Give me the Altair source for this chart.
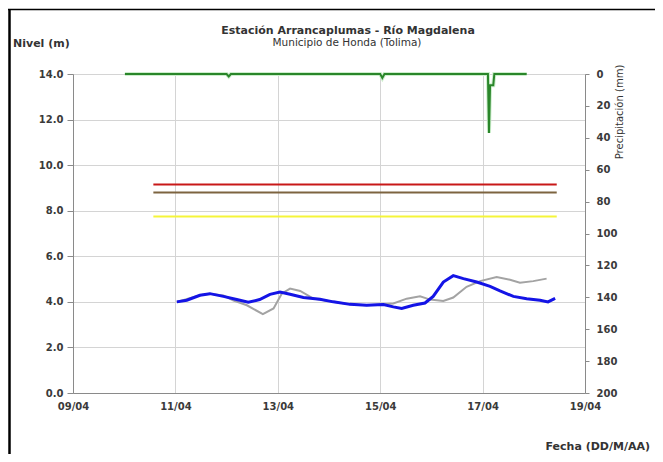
import altair as alt
import pandas as pd

FONT = "DejaVu Sans"

# ---------------- data ----------------
# Observed level (blue)
blue_time = ["2011-04-11T00:40", "2011-04-11T05:20", "2011-04-11T11:30", "2011-04-11T16:10",
             "2011-04-11T22:30", "2011-04-12T04:45", "2011-04-12T10:10", "2011-04-12T15:30",
             "2011-04-12T20:20", "2011-04-13T01:00", "2011-04-13T05:45", "2011-04-13T12:00",
             "2011-04-13T19:45", "2011-04-14T02:00", "2011-04-14T09:50", "2011-04-14T17:40",
             "2011-04-15T01:30", "2011-04-15T06:10", "2011-04-15T10:05", "2011-04-15T15:30",
             "2011-04-15T21:00", "2011-04-16T00:50", "2011-04-16T05:35", "2011-04-16T10:15",
             "2011-04-16T15:00", "2011-04-16T21:15", "2011-04-17T03:30", "2011-04-17T08:10",
             "2011-04-17T14:25", "2011-04-17T20:40", "2011-04-18T02:55", "2011-04-18T06:40",
             "2011-04-18T10:00"]
blue_level = [4.00, 4.07, 4.29, 4.36,
              4.24, 4.10, 3.98, 4.10,
              4.33, 4.43, 4.33, 4.19,
              4.11, 4.00, 3.89, 3.85,
              3.88, 3.78, 3.71, 3.85,
              3.95, 4.24, 4.87, 5.15,
              5.02, 4.87, 4.68, 4.48,
              4.24, 4.14, 4.07, 4.00,
              4.15]

# Second level series (grey)
gray_time = ["2011-04-11T00:40", "2011-04-11T11:30", "2011-04-11T16:00", "2011-04-11T22:30",
             "2011-04-12T03:00", "2011-04-12T09:30", "2011-04-12T17:00", "2011-04-12T22:00",
             "2011-04-13T01:50", "2011-04-13T05:45", "2011-04-13T10:30", "2011-04-13T16:40",
             "2011-04-14T02:00", "2011-04-14T09:50", "2011-04-14T17:40", "2011-04-15T01:30",
             "2011-04-15T06:10", "2011-04-15T12:25", "2011-04-15T18:40", "2011-04-15T23:25",
             "2011-04-16T05:35", "2011-04-16T10:15", "2011-04-16T16:30", "2011-04-16T22:50",
             "2011-04-17T06:35", "2011-04-17T12:50", "2011-04-17T17:30", "2011-04-17T23:45",
             "2011-04-18T06:00"]
gray_level = [4.00, 4.29, 4.36, 4.28,
              4.07, 3.85, 3.46, 3.71,
              4.36, 4.58, 4.48, 4.14,
              4.00, 3.89, 3.85, 3.90,
              3.93, 4.14, 4.24, 4.10,
              4.04, 4.19, 4.66, 4.91,
              5.09, 4.97, 4.84, 4.91,
              5.02]

# Precipitation (green, right axis, inverted)
precip_time = ["2011-04-10T00:20", "2011-04-12T00:00", "2011-04-12T01:00", "2011-04-12T02:00",
               "2011-04-15T00:00", "2011-04-15T01:00", "2011-04-15T02:00", "2011-04-17T02:30",
               "2011-04-17T03:00", "2011-04-17T03:30", "2011-04-17T05:00", "2011-04-17T05:30",
               "2011-04-17T20:40"]
precip_mm = [0, 0, 1.5, 0,
             0, 2.5, 0, 0,
             37, 7, 7, 0,
             0]

# Alert thresholds
thr_names = ["Roja", "Naranja", "Amarilla"]
thr_levels = [9.15, 8.8, 7.75]
thr_start = "2011-04-10T13:40"
thr_end = "2011-04-18T10:45"

x_tick_days = [9, 11, 13, 15, 17, 19]
level_ticks = [0, 2, 4, 6, 8, 10, 12, 14]
precip_ticks = [0, 20, 40, 60, 80, 100, 120, 140, 160, 180, 200]

# ---------------- tables ----------------
blue_df = pd.DataFrame({"t": blue_time, "nivel": blue_level})
gray_df = pd.DataFrame({"t": gray_time, "nivel": gray_level})
precip_df = pd.DataFrame({"t": precip_time, "mm": precip_mm})
thr_df = pd.DataFrame({"name": thr_names, "nivel": thr_levels,
                       "t0": [thr_start] * 3, "t1": [thr_end] * 3})

W, H = 512, 319

x_scale = alt.Scale(domain=[alt.DateTime(year=2011, month=4, date=9),
                            alt.DateTime(year=2011, month=4, date=19)], nice=False)
x_axis = alt.Axis(values=[alt.DateTime(year=2011, month=4, date=d) for d in x_tick_days],
                  format="%d/%m", title=None, grid=True, gridColor="#d4d4d4",
                  domainColor="#8a8a8a", tickSize=0, labelPadding=8,
                  labelFont=FONT, labelFontSize=10, labelFontWeight="bold",
                  labelColor="#3a3a3a", labelFlush=False)
y_scale = alt.Scale(domain=[0, 14], nice=False, zero=False)
y_axis = alt.Axis(values=level_ticks, format=".1f", title=None, grid=True,
                  gridColor="#d4d4d4", domainColor="#8a8a8a", tickColor="#8a8a8a",
                  tickSize=6, labelPadding=4, labelFont=FONT, labelFontSize=10,
                  labelFontWeight="bold", labelColor="#3a3a3a")
X = alt.X("t:T", scale=x_scale, axis=x_axis)

thr = alt.Chart(thr_df).mark_rule().encode(
    x=alt.X("t0:T", scale=x_scale, axis=x_axis),
    x2="t1:T",
    y=alt.Y("nivel:Q", scale=y_scale, axis=y_axis),
    color=alt.Color("name:N", scale=alt.Scale(domain=thr_names,
                    range=["#c81818", "#7d6440", "#f5f53a"]), legend=None),
    strokeWidth=alt.StrokeWidth("name:N", scale=alt.Scale(domain=thr_names,
                                range=[2, 2, 3.5]), legend=None),
)
gray = alt.Chart(gray_df).mark_line(color="#a3a3a3", strokeWidth=2).encode(
    x=X, y=alt.Y("nivel:Q", scale=y_scale, axis=y_axis))
blue = alt.Chart(blue_df).mark_line(color="#1414e6", strokeWidth=3).encode(
    x=X, y=alt.Y("nivel:Q", scale=y_scale, axis=y_axis))

levels = alt.layer(thr, gray, blue)

p_scale = alt.Scale(domain=[0, 200], reverse=True, nice=False)
p_axis = alt.Axis(orient="right", values=precip_ticks, title=None, grid=False,
                  domainColor="#8a8a8a", tickColor="#8a8a8a", tickSize=4,
                  labelPadding=7, labelFont=FONT, labelFontSize=10,
                  labelFontWeight="bold", labelColor="#3a3a3a")
green_halo = alt.Chart(precip_df).mark_line(color="#cdeecd", strokeWidth=4).encode(
    x=X, y=alt.Y("mm:Q", scale=p_scale, axis=p_axis))
green = alt.Chart(precip_df).mark_line(color="#2a862a", strokeWidth=2).encode(
    x=X, y=alt.Y("mm:Q", scale=p_scale, axis=p_axis))
precip = alt.layer(green_halo, green)

one = alt.Data(values=[{}])


def txt(s, x, y, **kw):
    return alt.Chart(one).mark_text(text=s, font=FONT, color="#333333", **kw).encode(
        x=alt.value(x), y=alt.value(y))


texts = alt.layer(
    txt("Estación Arrancaplumas - Río Magdalena", 275, -43, fontSize=11,
        fontWeight="bold", align="center", baseline="middle"),
    txt("Municipio de Honda (Tolima)", 274, -31, fontSize=10.5, align="center",
        baseline="middle"),
    txt("Nivel (m)", -60, -30, fontSize=11, fontWeight="bold", align="left",
        baseline="middle"),
    txt("Fecha (DD/M/AA)", 577, 373, fontSize=11, fontWeight="bold", align="right",
        baseline="middle"),
    txt("Precipitación (mm)", 547, 38, fontSize=10, angle=270, align="center",
        baseline="middle"),
    alt.Chart(one).mark_rule(color="black", strokeWidth=2.5).encode(
        x=alt.value(-63.5), y=alt.value(-64.5), y2=alt.value(380)),
    alt.Chart(one).mark_rule(color="black", strokeWidth=1.5).encode(
        x=alt.value(-65), x2=alt.value(582), y=alt.value(-64.5)),
)

chart = alt.layer(levels, precip, texts).resolve_scale(y="independent").properties(
    width=W, height=H,
    autosize=alt.AutoSizeParams(type="none"),
    padding={"left": 65, "top": 66, "right": 70, "bottom": 61},
).configure_view(strokeWidth=0).configure(background="white")

chart.save("out.html", embed_options={"renderer": "svg", "actions": False})
